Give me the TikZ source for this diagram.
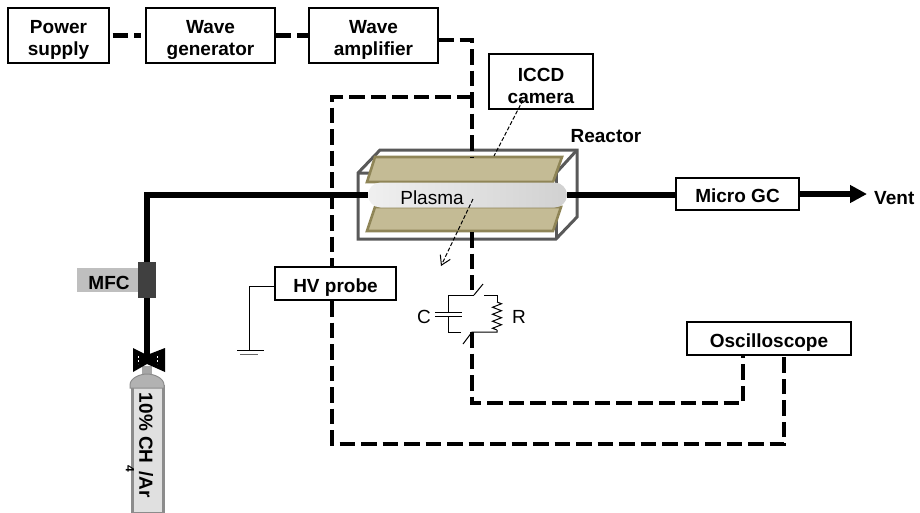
\documentclass[tikz,border=0pt]{standalone}
\usepackage{fontspec}
\setmainfont{Liberation Sans}
\usetikzlibrary{arrows.meta,shapes.misc,decorations.pathmorphing}
\definecolor{platefill}{HTML}{C4BB95}
\definecolor{plateedge}{HTML}{8F8557}
\tikzset{
    labelbox/.style={draw,line width=1.3pt,fill=white,align=center,font=\fontsize{19}{22}\selectfont\bfseries,inner sep=0pt},
    oneline/.style={labelbox,text height=17pt,text depth=0pt},
    tag/.style={font=\fontsize{19}{22}\selectfont\bfseries,inner sep=0pt},
    plain/.style={font=\fontsize{19}{22}\selectfont,inner sep=0pt},
    signal/.style={line width=4.5pt,dash pattern=on 15.5pt off 6pt},
    gasline/.style={line width=5.5pt},
    thinline/.style={line width=1pt},
    sight/.style={line width=1pt,dash pattern=on 4pt off 2pt},
    reactorline/.style={line width=3pt,draw=black!65,line join=miter},
    plate/.style={line width=2.6pt,draw=plateedge,fill=platefill}
}
\begin{document}
\begin{tikzpicture}[x=1pt,y=-1pt]
    \useasboundingbox (0,0) rectangle (920,512);
    % reactor
    \draw[reactorline] (358,173) -- (380,150) -- (577,150) -- (577,217) -- (556,239) -- (358,239) -- cycle;
    \draw[reactorline] (358,173) -- (556,173) -- (577,150);
    \draw[reactorline] (556,173) -- (556,239);
    \draw[plate] (375,157) -- (562,157) -- (553,182) -- (367,182) -- cycle;
    \draw[plate] (375,207) -- (561,207) -- (553,231) -- (367,231) -- cycle;
    \node[rounded rectangle,minimum width=199pt,minimum height=25pt,inner sep=0pt,left color=black!6,right color=black!18] (plasma) at (467.5,195) {};
    \node[plain] (plasmatext) at (432,198) {Plasma};
    \node[tag] (reactor) at (606,136) {Reactor};
    \coordinate (platetop) at (472,157);
    \coordinate (platebottom) at (472,232);
    \coordinate (viewtop) at (523,100);
    \coordinate (viewbottom) at (494,156);
    \coordinate (viewin) at (473,199);
    \coordinate (viewout) at (441,266);
    % high voltage and measurement
    \coordinate (upper) at (472,40);
    \coordinate (branch) at (472,97);
    \draw[signal] (438,40) -- (upper) -- (platetop);
    \draw[signal] (branch) -- (332,97) -- (332,444) -- (784,444) -- (784,355);
    % instruments
    \node[labelbox,minimum width=101pt,minimum height=55pt,text height=39pt,text depth=0pt] (power) at (58.5,35.5) {Power\\supply};
    \node[labelbox,minimum width=129pt,minimum height=55pt,text height=39pt,text depth=0pt] (generator) at (210.5,35.5) {Wave\\generator};
    \node[labelbox,minimum width=129pt,minimum height=55pt,text height=39pt,text depth=0pt] (amplifier) at (373.5,35.5) {Wave\\amplifier};
    \node[labelbox,minimum width=104pt,minimum height=55pt,text height=43pt,text depth=0pt] (camera) at (541,81.5) {ICCD\\camera};
    \node[oneline,minimum width=123pt,minimum height=32pt] (gc) at (737.5,194) {Micro GC};
    \node[oneline,minimum width=121pt,minimum height=33pt] (probe) at (335.5,283.5) {HV probe};
    \node[oneline,minimum width=164pt,minimum height=33pt] (scope) at (769,338.5) {Oscilloscope};
    \draw[signal,shorten <=3pt,shorten >=4pt] (power.east) -- (generator.west);
    \draw[signal] (generator.east) -- (amplifier.west);
    % gas supply
    \draw[gasline] (147,360) |- (plasma.west);
    \draw[gasline] (plasma.east) -- (plasma.east -| gc.west);
    \draw[gasline,-{Triangle[length=17pt,width=17pt]}] (gc.east) -- (867,194) coordinate (ventend);
    \node[tag,anchor=west] (vent) at (874,198) {Vent};
    \node[fill=black!25,minimum width=61pt,minimum height=24pt,inner sep=0pt] (mfcback) at (107.5,280) {};
    \node[tag] (mfc) at (109,283) {MFC};
    \node[fill=black!75,minimum width=18pt,minimum height=36pt,inner sep=0pt] (mfcbody) at (147,280) {};
    \node[fill=black!35,minimum width=10pt,minimum height=8pt,inner sep=0pt] (neck) at (147,370) {};
    \draw[line width=3pt,draw=black!45,fill=black!12] (132,386) rectangle (163,513);
    \draw[line width=1pt,fill=black!30,draw=black!45] (130,385) .. controls (130,378) and (140,374) .. (147,374) .. controls (154,374) and (164,378) .. (164,385) -- (164,388) -- (130,388) -- cycle;
    \node[tag,rotate=-90] (gasname) at (146,445.5) {10\% CH\hspace{8pt}/Ar};
    \node[font=\fontsize{12}{12}\selectfont\bfseries,inner sep=0pt,rotate=-90] (gassub) at (130,469) {4};
    \fill (133,348) -- (147,355) -- (165,348) -- (165,372) -- (147,364) -- (133,372) -- cycle;
    \draw[white,line width=.7pt,dash pattern=on 2pt off 2pt] (138,356) -- (138,364) (157,356) -- (157,364);
    % circuit
    \coordinate (swtop) at (474,295);
    \coordinate (swbottom) at (472,332);
    \draw[signal] (platebottom) -- (472,290);
    \draw[signal] (swbottom) -- (472,403) -- (743,403) -- (743,355);
    \draw[thinline] (474,295) -- (448,295) -- (448,312);
    \draw[thinline] (474,295) -- (483,284);
    \draw[thinline] (484,295) -- (497,295) -- (497,302);
    \draw[thinline,decorate,decoration={zigzag,segment length=7pt,amplitude=4.5pt}] (497,302) -- (497,330);
    \draw[thinline] (497,330) -- (497,332) -- (swbottom) -- (463,344);
    \draw[thinline] (461,332) -- (448,332) -- (448,316);
    \draw[thinline] (435,312) -- (462,312) (435,316) -- (462,316);
    \node[plain] (cap) at (424,317) {C};
    \node[plain] (res) at (519,317) {R};
    % sight lines
    \draw[sight] (viewtop) -- (viewbottom);
    \draw[sight,-{Straight Barb[length=9pt,width=11pt]}] (viewin) -- (viewout);
    % ground
    \coordinate (groundtop) at (249,350);
    \draw[thinline] (probe.west |- 0,286) -- (249,286) -- (groundtop);
    \draw[thinline] (237,350) -- (264,350);
    \draw[line width=1.5pt,black!60] (240,354.5) -- (258,354.5);
\end{tikzpicture}
\end{document}
